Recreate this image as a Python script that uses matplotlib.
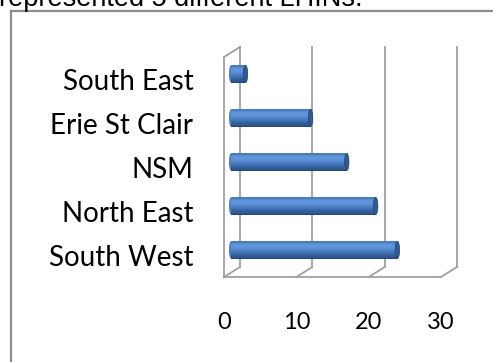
import matplotlib
matplotlib.use("Agg")
import matplotlib.pyplot as plt
import numpy as np
from matplotlib.transforms import offset_copy
from matplotlib.patches import Ellipse
from matplotlib.lines import Line2D

# data (bottom to top)
regions = ["South West", "North East", "NSM", "Erie St Clair", "South East"]
counts = [23, 20, 16, 11, 2]
ticks = [0, 10, 20, 30]

W, H = 493, 362
fig = plt.figure(figsize=(W / 100, H / 100), dpi=100)
fig.patch.set_facecolor("white")

# front plane of the 3d box
ax = fig.add_axes([224 / W, (H - 277) / H, 217 / W, 220 / H])
ax.set_xlim(0, 30)
ax.set_ylim(-0.5, 4.5)
ax.patch.set_alpha(0)
for s in ax.spines.values():
    s.set_visible(False)

grey = "#a0a0a0"
glw = 1.3
back = offset_copy(ax.transData, fig, x=16, y=10, units="dots")
mid = offset_copy(ax.transData, fig, x=7, y=5, units="dots")

# back wall gridlines
for t in ticks:
    ax.plot([t, t], [-0.5, 4.5], color=grey, lw=glw, transform=back, clip_on=False)
# floor
ax.plot([0, 30], [-0.5, -0.5], color=grey, lw=glw, clip_on=False)
for t in ticks:
    x0, y0 = ax.transData.transform((t, -0.5))
    x1, y1 = back.transform((t, -0.5))
    fig.add_artist(Line2D([x0 / W, x1 / W], [y0 / H, y1 / H], color=grey, lw=glw))
# left side wall
ax.plot([0, 0], [-0.5, 4.5], color=grey, lw=glw, clip_on=False)
x0, y0 = ax.transData.transform((0, 4.5))
x1, y1 = back.transform((0, 4.5))
fig.add_artist(Line2D([x0 / W, x1 / W], [y0 / H, y1 / H], color=grey, lw=glw))

# cylinders: stacked strips for the shading (bottom -> top)
ypos = np.arange(len(regions))
bh = 0.39
shades = ["#28497a", "#2d5289", "#325b96", "#3763a2", "#3c6bac", "#4273b5",
          "#477abd", "#4d81c5", "#5388cc", "#588ed2", "#5c92d6", "#5f95d8",
          "#6097d9", "#5d93d5", "#5589cb", "#4a7dbd"]
n = len(shades)
for k, c in enumerate(shades):
    off = -bh / 2 + (k + 0.5) * bh / n
    ax.barh(ypos + off, counts, height=bh / n + 0.003, left=0, color=c,
            lw=0, transform=mid, zorder=2)
for y, v in zip(ypos, counts):
    ax.add_patch(Ellipse((0, y), 0.55, bh, facecolor="#4a7ebf",
                         lw=0, transform=mid, zorder=1.9))
    ax.add_patch(Ellipse((v, y), 0.6, bh, facecolor="#2f5a92",
                         edgecolor="#27497a", lw=0.6, transform=mid, zorder=3))

font = "Lato"
ax.set_yticks(ypos)
ax.set_yticklabels(regions, fontsize=20, family=font)
ax.set_xticks(ticks)
ax.set_xticklabels([str(t) for t in ticks], fontsize=17, family=font)
ax.tick_params(axis="y", length=0, pad=22)
ax.tick_params(axis="x", length=0, pad=25)

# outer frame
fig.add_artist(Line2D([10.5 / W, 10.5 / W], [0, 1 - 10.5 / H], color="#8c8c8c", lw=1.6))
fig.add_artist(Line2D([10.5 / W, 1], [1 - 10.5 / H, 1 - 10.5 / H], color="#8c8c8c", lw=1.6))

# clipped caption line from the page above
fig.text(-0.002, 1 - 6.5 / H, "represented 5 different LHINs.", fontsize=19.5,
         family="Liberation Sans", va="baseline", ha="left")

fig.savefig("out.png", dpi=100)
